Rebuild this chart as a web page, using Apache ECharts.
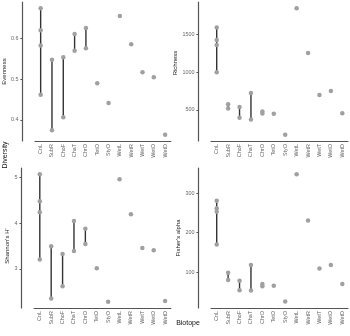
<!DOCTYPE html>
<html>
<head>
<meta charset="utf-8">
<script src="https://cdn.jsdelivr.net/npm/echarts@6/dist/echarts.min.js"></script>
<style>html,body{margin:0;padding:0;background:#fff}#c{width:350px;height:336px}</style>
</head>
<body>
<div id="c"></div>
<script>
var categories = ['CnL','SubR','ChoF','ChaT','ChrO','TetO','StyO','WetL','WetR','WetT','WetO','WetD'];
var evenness = [[0.674,0.620,0.583,0.462],[0.548,0.375],[0.554,0.407],[0.611,0.570],[0.626,0.576],[0.490],[0.442],[0.655],[0.586],[0.517],[0.505],[0.364]];
var richness = [[1592,1425,1360,1000],[575,518],[539,395],[724,373],[478,452],[447],[171],[1846],[1254],[697],[750],[456]];
var shannon = [[5.065,4.48,4.236,3.204],[3.495,2.353],[3.327,2.622],[4.047,3.393],[3.88,3.545],[3.015],[2.287],[4.956],[4.193],[3.458],[3.407],[2.302]];
var fisher = [[281,262,253,170],[98,80],[78,54],[118,53],[70,64],[65],[25],[348],[231],[109],[118],[70]];
var evennessTicks = [0.4,0.5,0.6];
var richnessTicks = [500,1000,1500];
var shannonTicks = [3,4,5];
var fisherTicks = [100,200,300];

var FONT = 'Liberation Sans, Arial, sans-serif';
var panels = [
  {name:'Evenness', data:evenness, ticks:evennessTicks, min:0.3485, max:0.6895, grid:{left:34.1, top:2, width:136.7, height:139}, pad:[0,0,0,0]},
  {name:'Richness', data:richness, ticks:richnessTicks, min:87, max:1930, grid:{left:211, top:2, width:137, height:139}, pad:[0,0,0,17]},
  {name:"Shannon's H'", data:shannon, ticks:shannonTicks, min:2.148, max:5.204, grid:{left:34.1, top:168, width:136.7, height:140}, pad:[0,16,0,0]},
  {name:"Fisher's alpha", data:fisher, ticks:fisherTicks, min:8.8, max:364, grid:{left:211, top:168, width:137, height:140}, pad:[0,0,0,0]}
];

var option = {
  animation:false,
  backgroundColor:'#fff',
  grid:[], xAxis:[], yAxis:[], series:[],
  graphic:[
    {type:'text', x:5, y:155, rotation:Math.PI/2, style:{text:'Diversity', font:'7px '+FONT, fill:'#111', align:'center', verticalAlign:'middle'}},
    {type:'text', x:188, y:323, style:{text:'Biotope', font:'7px '+FONT, fill:'#111', align:'center', verticalAlign:'middle'}}
  ]
};

panels.forEach(function(p, i){
  option.grid.push(Object.assign({containLabel:false}, p.grid));
  option.xAxis.push({
    type:'category', gridIndex:i, data:categories, boundaryGap:true,
    axisLine:{lineStyle:{color:'#555', width:1.2}},
    axisTick:{alignWithLabel:true, length:2, lineStyle:{color:'#555', width:1}},
    axisLabel:{rotate:90, fontSize:5.4, color:'#666', margin:3, fontFamily:FONT, interval:0},
    splitLine:{show:false}
  });
  option.yAxis.push({
    type:'value', gridIndex:i, min:p.min, max:p.max, offset:12.6,
    name:p.name, nameLocation:'middle', nameRotate:90, nameGap:-7,
    nameTextStyle:{fontSize:6, color:'#222', fontFamily:FONT, padding:p.pad},
    axisLine:{show:true, lineStyle:{color:'#555', width:1.2}},
    axisTick:{show:true, length:2, customValues:p.ticks, lineStyle:{color:'#555', width:1}},
    axisLabel:{fontSize:5.4, color:'#666', margin:4, fontFamily:FONT, customValues:p.ticks,
      formatter:function(v){ return String(v); }},
    splitLine:{show:false}
  });
  var ranges = [];
  var pts = [];
  p.data.forEach(function(vals, ci){
    vals.forEach(function(v){ pts.push([ci, v]); });
    if (vals.length > 1) ranges.push([ci, Math.min.apply(null, vals), Math.max.apply(null, vals)]);
  });
  option.series.push({
    type:'custom', xAxisIndex:i, yAxisIndex:i, z:1, data:ranges,
    encode:{x:0, y:[1,2]},
    renderItem:function(params, api){
      var a = api.coord([api.value(0), api.value(1)]);
      var b = api.coord([api.value(0), api.value(2)]);
      return {type:'line', shape:{x1:a[0], y1:a[1], x2:b[0], y2:b[1]}, style:{stroke:'#333', lineWidth:1.4}};
    }
  });
  option.series.push({
    type:'scatter', xAxisIndex:i, yAxisIndex:i, z:2, data:pts,
    symbol:'circle', symbolSize:4.5,
    itemStyle:{color:'#a0a0a0', opacity:1}
  });
});

var chart = echarts.init(document.getElementById('c'), null, {renderer:'canvas'});
chart.setOption(option);
</script>
</body>
</html>
